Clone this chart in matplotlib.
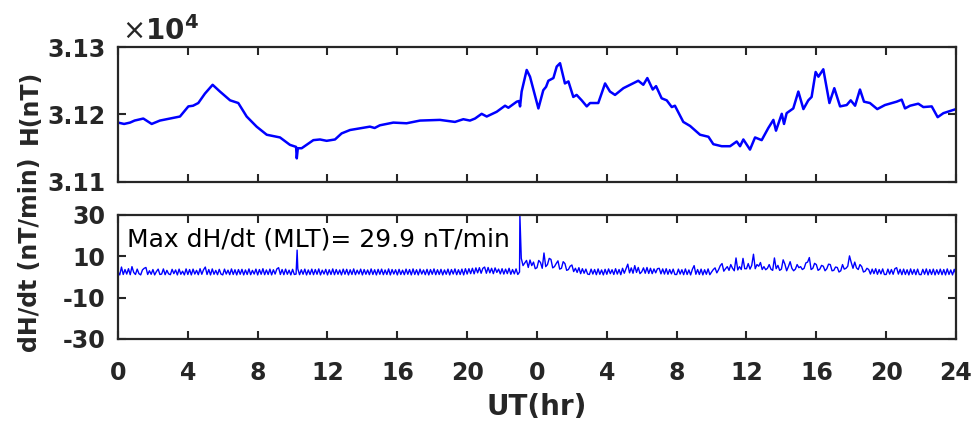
import matplotlib
matplotlib.use("Agg")
import matplotlib.pyplot as plt
import numpy as np

# ---------------- data ----------------
# Upper panel: H component (nT) vs hours since start (0-48 h)
h_hours = [0.0, 0.35, 0.69, 0.95, 1.45, 1.93, 2.4, 2.98, 3.55, 4.03, 4.3, 4.6, 4.98,
           5.42, 5.84, 6.42, 6.89, 7.37, 7.94, 8.52, 9.28, 9.85, 10.2, 10.24, 10.3,
           10.52, 11.19, 11.57, 11.95, 12.43, 12.81, 13.29, 14.43, 14.7, 15.0, 15.77,
           16.53, 17.3, 18.44, 19.3, 19.78, 20.16, 20.45, 20.83, 21.12, 21.69, 22.17,
           22.36, 22.84, 22.97, 23.03, 23.12, 23.41, 23.6, 24.08, 24.36, 24.52, 24.65,
           24.94, 25.13, 25.32, 25.6, 25.8, 26.08, 26.27, 26.56, 26.85, 27.04, 27.51,
           27.9, 28.18, 28.47, 28.95, 29.33, 29.8, 30.09, 30.32, 30.63, 30.82, 31.14,
           31.43, 31.72, 31.9, 32.38, 32.77, 33.34, 33.82, 34.1, 34.58, 35.06, 35.44,
           35.63, 35.82, 36.2, 36.49, 36.87, 37.25, 37.54, 37.69, 38.02, 38.15, 38.3,
           38.68, 38.97, 39.26, 39.54, 39.73, 39.96, 40.12, 40.4, 40.75, 41.03, 41.36,
           41.74, 41.97, 42.22, 42.5, 42.73, 43.07, 43.49, 43.93, 44.6, 44.89, 45.08,
           45.37, 45.84, 46.13, 46.61, 46.95, 47.28, 48.0]
h_values = [31188, 31186, 31188, 31191, 31194, 31186, 31191, 31194, 31197, 31212, 31213,
            31217, 31231, 31244, 31234, 31221, 31217, 31197, 31182, 31170, 31166, 31155,
            31152, 31135, 31150, 31150, 31162, 31163, 31161, 31163, 31172, 31177, 31182,
            31180, 31184, 31188, 31187, 31191, 31192, 31189, 31193, 31191, 31194, 31201,
            31197, 31204, 31213, 31210, 31219, 31220, 31212, 31234, 31266, 31256, 31209,
            31236, 31241, 31250, 31254, 31271, 31276, 31246, 31249, 31226, 31229, 31221,
            31212, 31217, 31217, 31246, 31234, 31229, 31239, 31244, 31250, 31244, 31254,
            31237, 31242, 31224, 31221, 31211, 31213, 31189, 31183, 31170, 31167, 31156,
            31153, 31153, 31160, 31153, 31163, 31148, 31166, 31162, 31180, 31192, 31176,
            31201, 31186, 31202, 31209, 31234, 31208, 31221, 31226, 31263, 31256, 31267,
            31217, 31239, 31212, 31214, 31221, 31213, 31237, 31219, 31217, 31208, 31214,
            31219, 31222, 31209, 31213, 31216, 31211, 31212, 31196, 31202, 31208]

# Lower panel: dH/dt (nT/min) sampled every 0.1 h from 0 to 48 h (one row per hour)
dhdt_step = 0.1
dhdt_values = [
    2.5, 1.0, 4.8, 1.2, 3.6, 1.4, 4.0, 1.1, 5.0, 2.2,
    1.2, 3.8, 1.6, 1.0, 3.4, 4.2, 4.6, 1.2, 3.0, 1.3,
    3.6, 1.0, 2.6, 3.8, 1.2, 1.4, 3.9, 1.1, 3.2, 1.5,
    1.1, 3.7, 1.6, 3.4, 1.0, 3.8, 1.3, 2.8, 1.0, 3.9,
    1.2, 3.6, 1.0, 3.8, 1.4, 3.2, 1.1, 4.0, 1.3, 3.5,
    4.8, 1.2, 3.6, 1.0, 3.9, 1.3, 3.2, 1.1, 3.7, 1.4,
    1.0, 3.8, 1.4, 3.3, 1.1, 3.9, 1.2, 3.5, 1.0, 3.6,
    1.3, 3.7, 1.0, 3.4, 1.2, 3.9, 1.1, 3.2, 1.4, 3.8,
    1.0, 3.6, 1.3, 4.0, 1.1, 3.4, 1.2, 3.8, 1.0, 3.5,
    1.4, 3.9, 4.5, 1.2, 3.6, 1.1, 3.8, 1.3, 3.3, 1.0,
    3.7, 1.2, 1.4, 3.9, 1.1, 3.5, 1.3, 3.8, 1.0, 3.4,
    1.2, 3.8, 1.1, 3.6, 1.3, 3.9, 1.0, 3.3, 1.4, 3.7,
    1.0, 3.5, 1.2, 3.9, 1.1, 3.6, 1.3, 3.4, 1.0, 3.8,
    1.3, 3.7, 1.0, 3.5, 1.2, 3.9, 1.1, 3.3, 1.4, 3.8,
    1.0, 3.6, 1.3, 3.4, 1.1, 3.9, 1.2, 3.5, 1.0, 3.7,
    1.3, 3.8, 1.1, 3.4, 1.2, 3.9, 1.0, 3.6, 1.4, 3.5,
    1.0, 3.7, 1.2, 3.3, 1.1, 3.8, 1.3, 3.6, 1.0, 3.9,
    1.2, 3.5, 1.0, 3.8, 1.4, 3.4, 1.1, 3.7, 1.0, 3.6,
    1.3, 3.9, 1.1, 3.5, 1.2, 3.7, 1.0, 3.4, 1.3, 3.8,
    1.0, 3.6, 1.4, 3.9, 1.1, 3.5, 1.2, 3.8, 1.0, 4.0,
    1.4, 4.0, 1.6, 4.2, 1.5, 4.4, 2.0, 4.5, 1.8, 4.2,
    4.8, 1.8, 4.6, 2.0, 4.2, 1.6, 4.4, 2.2, 3.8, 1.5,
    4.0, 1.4, 3.8, 1.6, 4.2, 1.3, 3.6, 1.5, 3.9, 1.2,
    2.4, 9.0, 5.5, 6.8, 8.0, 4.6, 8.2, 5.5, 7.2, 4.0,
    4.5, 8.0, 7.0, 4.2, 11.6, 5.0, 6.0, 9.0, 8.5, 4.4,
    5.0, 6.5, 7.8, 3.8, 4.2, 7.4, 6.5, 3.2, 3.6, 5.2,
    5.8, 2.6, 4.2, 2.2, 4.5, 1.6, 4.0, 1.8, 3.8, 1.4,
    1.2, 3.8, 1.4, 3.6, 1.1, 3.9, 1.3, 3.4, 1.0, 3.7,
    1.3, 3.9, 1.6, 3.5, 1.2, 4.0, 1.4, 3.6, 1.1, 4.2,
    1.8, 4.0, 6.2, 2.0, 4.4, 1.8, 5.5, 2.2, 4.6, 1.6,
    2.5, 4.4, 1.8, 4.6, 1.7, 4.2, 1.6, 3.9, 2.0, 4.0,
    4.2, 1.5, 3.9, 1.4, 4.0, 1.3, 3.6, 1.5, 3.8, 1.2,
    1.2, 3.8, 1.4, 3.5, 1.1, 3.9, 1.2, 3.4, 1.0, 3.7,
    5.5, 1.3, 3.6, 1.2, 3.8, 1.0, 3.5, 1.3, 3.9, 1.1,
    2.4, 3.6, 4.4, 2.0, 3.5, 5.5, 6.5, 2.8, 4.0, 5.0,
    3.2, 6.0, 4.2, 3.0, 9.2, 3.4, 5.0, 3.6, 9.0, 4.0,
    4.0, 6.5, 3.8, 5.6, 11.0, 4.0, 6.0, 5.2, 7.0, 3.6,
    5.0, 3.5, 4.2, 6.0, 3.8, 3.2, 9.2, 4.0, 5.6, 3.2,
    3.8, 8.3, 6.2, 3.0, 5.0, 7.4, 4.2, 3.0, 3.8, 6.0,
    4.5, 5.0, 3.6, 4.2, 6.8, 7.2, 9.4, 3.6, 4.2, 6.6,
    6.0, 3.2, 3.8, 5.6, 5.2, 3.0, 4.0, 6.2, 6.0, 3.0,
    3.2, 4.8, 4.6, 2.4, 3.0, 6.0, 3.8, 4.2, 5.2, 10.2,
    7.0, 4.2, 7.2, 4.4, 3.6, 6.0, 5.0, 2.4, 2.8, 4.2,
    3.6, 1.4, 3.8, 1.6, 4.0, 1.3, 3.6, 1.5, 3.9, 1.2,
    1.2, 3.8, 1.4, 3.6, 1.3, 4.0, 4.5, 1.4, 3.7, 1.1,
    3.8, 1.2, 3.5, 1.0, 3.9, 1.3, 3.6, 1.1, 3.8, 1.2,
    1.1, 3.7, 1.3, 3.9, 1.0, 3.6, 1.2, 3.8, 1.0, 3.5,
    1.3, 3.8, 1.1, 3.6, 1.0, 3.9, 1.2, 3.4, 1.0, 3.7,
    1.2]
spike_hours = [10.26, 23.02]
spike_values = [13.0, 29.9]

xtick_hours = [0, 4, 8, 12, 16, 20, 24, 28, 32, 36, 40, 44, 48]
xtick_labels = ['0', '4', '8', '12', '16', '20', '0', '4', '8', '12', '16', '20', '24']
h_ticks = [31100, 31200, 31300]
h_tick_labels = ['3.11', '3.12', '3.13']
dhdt_ticks = [-30, -10, 10, 30]
dhdt_tick_labels = ['-30', '-10', '10', '30']
annotation_text = 'Max dH/dt (MLT)= 29.9 nT/min'

# ---------------- build series ----------------
dhdt_hours = list(np.round(np.arange(len(dhdt_values)) * dhdt_step, 3))
pairs = sorted(zip(dhdt_hours + spike_hours, dhdt_values + spike_values))
dt_x = [p[0] for p in pairs]
dt_y = [p[1] for p in pairs]

# ---------------- figure ----------------
plt.rcParams['font.family'] = ['DejaVu Sans']
dark = '#262626'
fig = plt.figure(figsize=(9.76, 4.25), dpi=100)
ax1 = fig.add_axes([0.1209, 0.5718, 0.8586, 0.3176])
ax2 = fig.add_axes([0.1209, 0.2024, 0.8586, 0.2918])

ax1.plot(h_hours, h_values, color='#0000ff', lw=1.8)
ax2.plot(dt_x, dt_y, color='#0000ff', lw=1.0)

for ax in (ax1, ax2):
    ax.set_xlim(0, 48)
    ax.set_xticks(xtick_hours)
    for s in ax.spines.values():
        s.set_color(dark)
        s.set_linewidth(1.6)
    ax.tick_params(direction='in', length=6, width=1.5, colors=dark,
                   top=True, right=True, labelsize=17, pad=9)

ax1.set_ylim(31100, 31300)
ax1.set_yticks(h_ticks)
ax1.set_yticklabels(h_tick_labels, fontweight='bold')
ax1.set_xticklabels([])

ax2.set_ylim(-30, 30)
ax2.set_yticks(dhdt_ticks)
ax2.set_yticklabels(dhdt_tick_labels, fontweight='bold')
ax2.set_xticklabels(xtick_labels, fontweight='bold')
ax2.tick_params(axis='x', pad=16)

ax1.set_ylabel('H(nT)', fontsize=17, fontweight='bold', color=dark)
ax1.yaxis.set_label_coords(-0.0907, 0.556)
ax2.set_ylabel('dH/dt (nT/min)', fontsize=17, fontweight='bold', color=dark)
ax2.yaxis.set_label_coords(-0.0907, 0.677)
ax2.set_xlabel('UT(hr)', fontsize=20, fontweight='bold', color=dark)
ax2.xaxis.set_label_coords(0.5, -0.435)

ax2.text(0.0107, 0.744, annotation_text, transform=ax2.transAxes,
         fontsize=18, color='black', va='baseline', ha='left')

fig.text(122 / 976, 1 - 40 / 425, r'$\times\mathbf{10^{4}}$', fontsize=20,
         color=dark, va='baseline', ha='left')

fig.savefig('out.png', dpi=100)
